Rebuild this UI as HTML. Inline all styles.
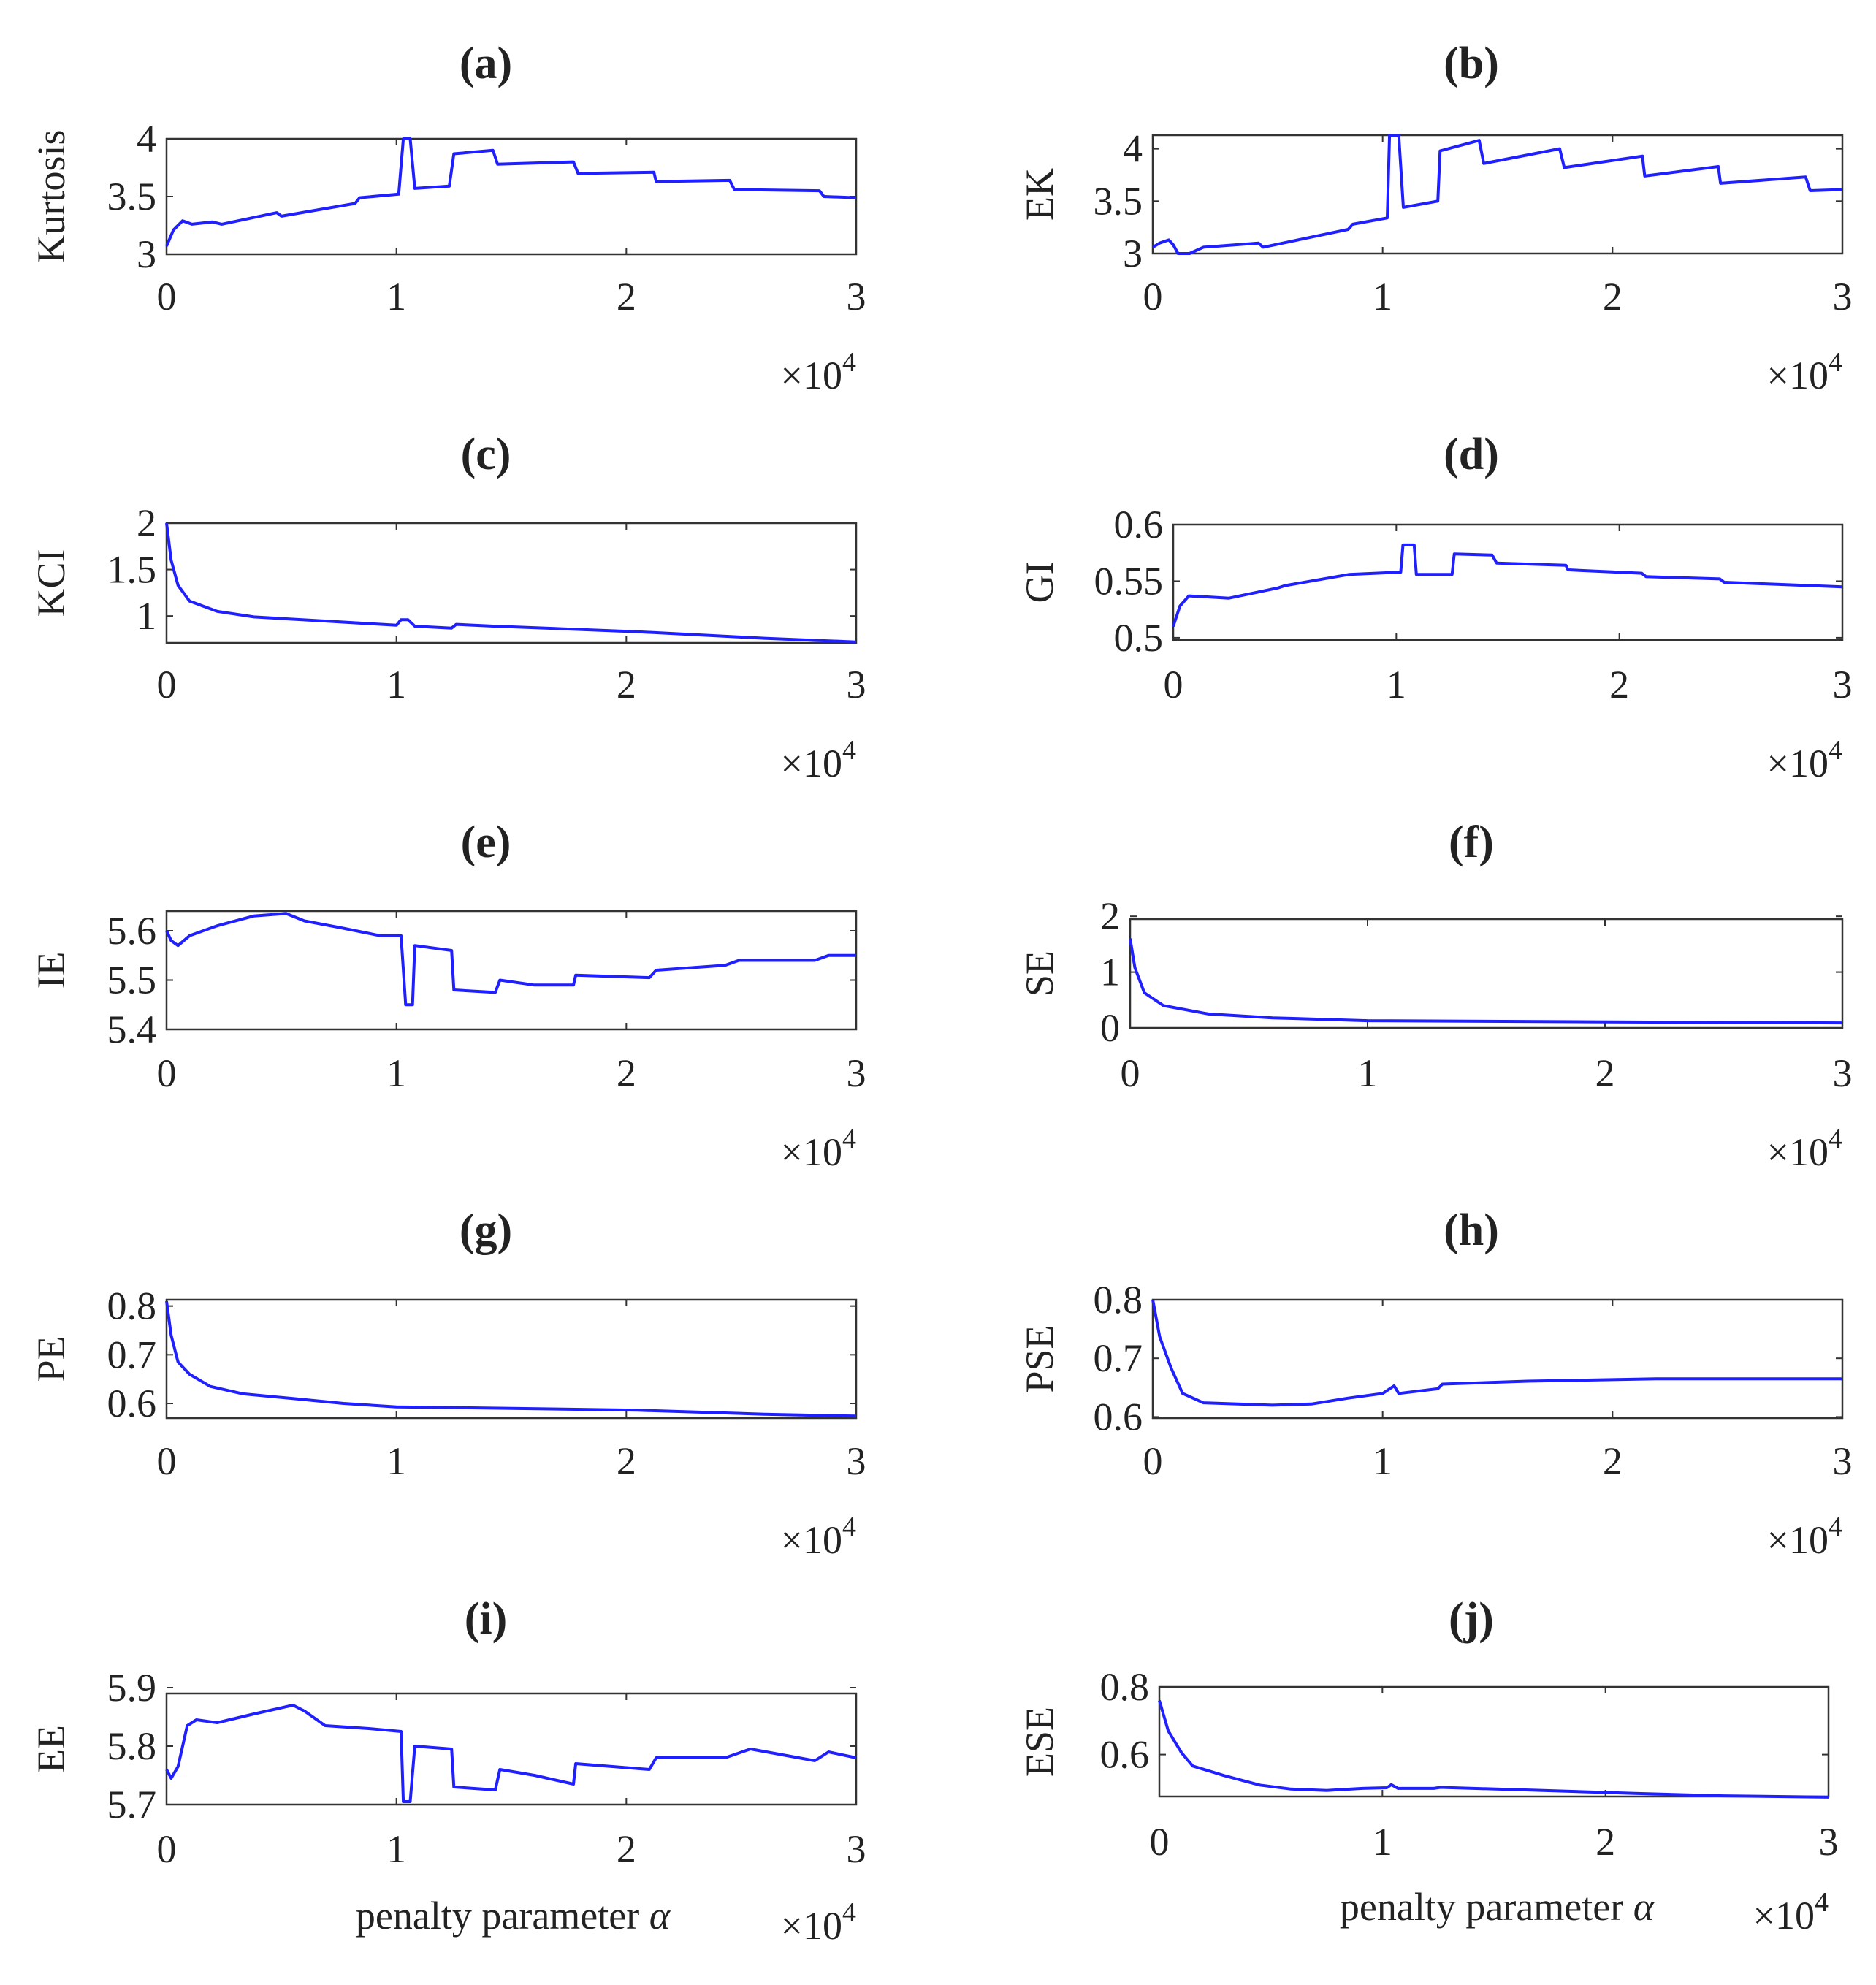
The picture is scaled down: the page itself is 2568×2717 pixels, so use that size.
<!DOCTYPE html>
<html><head><meta charset="utf-8">
<style>
html,body{margin:0;padding:0;background:#fff;}
svg{display:block;}
text{font-family:"Liberation Serif",serif;fill:#222;}
</style></head>
<body>
<svg id="fig" width="2568" height="2717" viewBox="0 0 2568 2717" xmlns="http://www.w3.org/2000/svg"></svg>
<script>
// ---- data (x in units of 1e4) ----
const kurtX=[0,0.03,0.07,0.11,0.2,0.24,0.48,0.5,0.82,0.84,1.01,1.03,1.06,1.08,1.23,1.25,1.42,1.44,1.77,1.79,2.12,2.13,2.45,2.47,2.84,2.86,3];
const kurtY=[3.07,3.21,3.29,3.26,3.28,3.26,3.36,3.33,3.44,3.49,3.52,4.0,4.0,3.57,3.59,3.87,3.9,3.78,3.8,3.7,3.71,3.63,3.64,3.56,3.55,3.5,3.49];
const ekX=[0,0.03,0.07,0.09,0.11,0.16,0.22,0.46,0.48,0.85,0.87,1.02,1.03,1.07,1.09,1.24,1.25,1.42,1.44,1.77,1.79,2.13,2.14,2.46,2.47,2.84,2.86,3];
const ekY=[3.06,3.1,3.13,3.08,3.0,3.0,3.06,3.1,3.06,3.23,3.28,3.34,4.13,4.13,3.44,3.5,3.98,4.08,3.86,4.0,3.82,3.93,3.74,3.83,3.67,3.73,3.6,3.61];
const kciX=[0,0.02,0.05,0.1,0.22,0.38,0.66,1.0,1.02,1.05,1.08,1.24,1.26,1.43,2.05,2.6,3];
const kciY=[2.0,1.6,1.33,1.16,1.05,0.99,0.95,0.9,0.96,0.96,0.89,0.87,0.91,0.89,0.83,0.76,0.72];
const giX=[0,0.03,0.07,0.16,0.25,0.47,0.5,0.79,1.02,1.03,1.08,1.09,1.25,1.26,1.43,1.45,1.76,1.77,2.1,2.12,2.45,2.47,3];
const giY=[0.51,0.528,0.537,0.536,0.535,0.544,0.546,0.556,0.558,0.582,0.582,0.556,0.556,0.574,0.573,0.566,0.564,0.56,0.557,0.554,0.552,0.549,0.545];
const ieX=[0,0.02,0.05,0.1,0.22,0.38,0.52,0.6,0.77,0.93,1.02,1.04,1.07,1.08,1.24,1.25,1.43,1.45,1.6,1.77,1.78,2.1,2.13,2.43,2.49,2.82,2.88,3];
const ieY=[5.6,5.58,5.57,5.59,5.61,5.63,5.635,5.62,5.605,5.59,5.59,5.45,5.45,5.57,5.56,5.48,5.475,5.5,5.49,5.49,5.51,5.505,5.52,5.53,5.54,5.54,5.55,5.55];
const seX=[0,0.02,0.06,0.14,0.33,0.6,1.0,1.94,3];
const seY=[1.6,1.08,0.63,0.4,0.25,0.18,0.13,0.11,0.09];
const peX=[0,0.02,0.05,0.1,0.19,0.33,0.55,0.77,1.0,1.5,2.05,2.6,3];
const peY=[0.81,0.74,0.685,0.66,0.635,0.62,0.61,0.6,0.593,0.59,0.586,0.578,0.574];
const pseX=[0,0.03,0.08,0.13,0.22,0.52,0.69,0.85,1.0,1.05,1.07,1.24,1.26,1.63,2.19,3];
const pseY=[0.8,0.737,0.683,0.64,0.624,0.62,0.622,0.632,0.64,0.653,0.64,0.648,0.656,0.661,0.665,0.665];
const eeX=[0,0.02,0.05,0.09,0.13,0.22,0.38,0.55,0.6,0.69,0.88,1.02,1.03,1.06,1.08,1.24,1.25,1.43,1.45,1.6,1.77,1.78,2.1,2.13,2.43,2.54,2.82,2.88,3];
const eeY=[5.76,5.745,5.765,5.835,5.845,5.84,5.855,5.87,5.86,5.835,5.83,5.825,5.705,5.705,5.8,5.795,5.73,5.725,5.76,5.75,5.735,5.77,5.76,5.78,5.78,5.795,5.775,5.79,5.78];
const eseX=[0,0.04,0.1,0.15,0.29,0.45,0.59,0.75,0.91,1.02,1.04,1.07,1.23,1.26,1.72,2.13,2.53,3];
const eseY=[0.76,0.67,0.605,0.566,0.538,0.51,0.498,0.494,0.5,0.502,0.511,0.5,0.5,0.503,0.494,0.485,0.478,0.474];
const xTicks=[0,1,2,3];
const xTickLabels=["0","1","2","3"];

const panels=[
 {id:"a",label:"Kurtosis",xs:kurtX,ys:kurtY,x0:228,x1:1172,y0:190,y1:348,ymin:3,ymax:4,yt:[3,3.5,4],ytl:["3","3.5","4"],ty:87,tx:665,xly:406,mly:514,ylx:70},
 {id:"b",label:"EK",xs:ekX,ys:ekY,x0:1578,x1:2522,y0:185,y1:347,ymin:3,ymax:4.13,yt:[3,3.5,4],ytl:["3","3.5","4"],ty:87,tx:2014,xly:406,mly:514,ylx:1423},
 {id:"c",label:"KCI",xs:kciX,ys:kciY,x0:228,x1:1172,y0:716,y1:880,ymin:0.71,ymax:2,yt:[1,1.5,2],ytl:["1","1.5","2"],ty:622,tx:665,xly:937,mly:1045,ylx:70},
 {id:"d",label:"GI",xs:giX,ys:giY,x0:1606,x1:2522,y0:718,y1:876,ymin:0.498,ymax:0.6,yt:[0.5,0.55,0.6],ytl:["0.5","0.55","0.6"],ty:622,tx:2014,xly:937,mly:1045,ylx:1423},
 {id:"e",label:"IE",xs:ieX,ys:ieY,x0:228,x1:1172,y0:1247,y1:1409,ymin:5.4,ymax:5.64,yt:[5.4,5.5,5.6],ytl:["5.4","5.5","5.6"],ty:1153,tx:665,xly:1469,mly:1577,ylx:70},
 {id:"f",label:"SE",xs:seX,ys:seY,x0:1547,x1:2522,y0:1258,y1:1407,ymin:0,ymax:1.95,yt:[0,1,2],ytl:["0","1","2"],ty:1153,tx:2014,xly:1469,mly:1577,ylx:1423},
 {id:"g",label:"PE",xs:peX,ys:peY,x0:228,x1:1172,y0:1779,y1:1941,ymin:0.57,ymax:0.813,yt:[0.6,0.7,0.8],ytl:["0.6","0.7","0.8"],ty:1684,tx:665,xly:2000,mly:2108,ylx:70},
 {id:"h",label:"PSE",xs:pseX,ys:pseY,x0:1578,x1:2522,y0:1779,y1:1941,ymin:0.598,ymax:0.8,yt:[0.6,0.7,0.8],ytl:["0.6","0.7","0.8"],ty:1684,tx:2014,xly:2000,mly:2108,ylx:1423},
 {id:"i",label:"EE",xs:eeX,ys:eeY,x0:228,x1:1172,y0:2318,y1:2470,ymin:5.7,ymax:5.89,yt:[5.7,5.8,5.9],ytl:["5.7","5.8","5.9"],ty:2216,tx:665,xly:2531,mly:2636,ylx:70,pen:[702,2622]},
 {id:"j",label:"ESE",xs:eseX,ys:eseY,x0:1587,x1:2503,y0:2309,y1:2459,ymin:0.476,ymax:0.8,yt:[0.6,0.8],ytl:["0.6","0.8"],ty:2216,tx:2014,xly:2521,mly:2622,ylx:1423,pen:[2049,2610]}
];

const NS="http://www.w3.org/2000/svg";
const svg=document.getElementById("fig");
function mk(tag,attrs,parent){const e=document.createElementNS(NS,tag);for(const k in attrs)e.setAttribute(k,attrs[k]);parent.appendChild(e);return e;}

panels.forEach(p=>{
 const g=mk("g",{},svg);
 
 
 const sx=v=>p.x0+(v-0)/(3-0)*(p.x1-p.x0);
 const sy=v=>p.y1-(v-p.ymin)/(p.ymax-p.ymin)*(p.y1-p.y0);
 // title
 const t=mk("text",{x:p.tx,y:p.ty+20,"text-anchor":"middle","font-size":"62","font-weight":"bold"},g);
 t.textContent="("+p.id+")";
 
 
 // box
 const r=mk("rect",{x:p.x0,y:p.y0,width:p.x1-p.x0,height:p.y1-p.y0,fill:"#fff",stroke:"#333","stroke-width":"2.5"},g);
 
 
 // x ticks
 xTicks.forEach((v,i)=>{
  const x=sx(v);
  mk("line",{x1:x,y1:p.y1,x2:x,y2:p.y1-9,stroke:"#333","stroke-width":"2"},g);
  mk("line",{x1:x,y1:p.y0,x2:x,y2:p.y0+9,stroke:"#333","stroke-width":"2"},g);
  const tl=mk("text",{x:x,y:p.xly+18,"text-anchor":"middle","font-size":"54"},g);
  tl.textContent=xTickLabels[i];
  
  
 });
 // y ticks
 p.yt.forEach((v,i)=>{
  const y=sy(v);
  mk("line",{x1:p.x0,y1:y,x2:p.x0+9,y2:y,stroke:"#333","stroke-width":"2"},g);
  mk("line",{x1:p.x1,y1:y,x2:p.x1-9,y2:y,stroke:"#333","stroke-width":"2"},g);
  const tl=mk("text",{x:p.x0-14,y:y+18,"text-anchor":"end","font-size":"54"},g);
  tl.textContent=p.ytl[i];
  
  
 });
 // y label
 const yl=mk("text",{x:0,y:0,"text-anchor":"middle","font-size":"54",transform:"translate("+(p.ylx+18)+","+((p.y0+p.y1)/2)+") rotate(-90)"},g);
 yl.textContent=p.label;
 
 
 // multiplier
 const m=mk("text",{x:p.x1,y:p.mly+18,"text-anchor":"end","font-size":"54"},g);
 m.innerHTML='×10<tspan dy="-24" font-size="38">4</tspan>';
 
 
 if(p.pen){
  const pl=mk("text",{x:p.pen[0],y:p.pen[1]+18,"text-anchor":"middle","font-size":"54"},g);
  pl.innerHTML='penalty parameter <tspan font-style="italic">α</tspan>';
  
  
 }
 // series
 const d=p.xs.map((v,i)=>(i?"L":"M")+sx(v).toFixed(1)+","+sy(p.ys[i]).toFixed(1)).join(" ");
 const path=mk("path",{d:d,fill:"none",stroke:"#1f1fff","stroke-width":"4","stroke-linejoin":"round"},g);
 
 
});
</script>
</body></html>
